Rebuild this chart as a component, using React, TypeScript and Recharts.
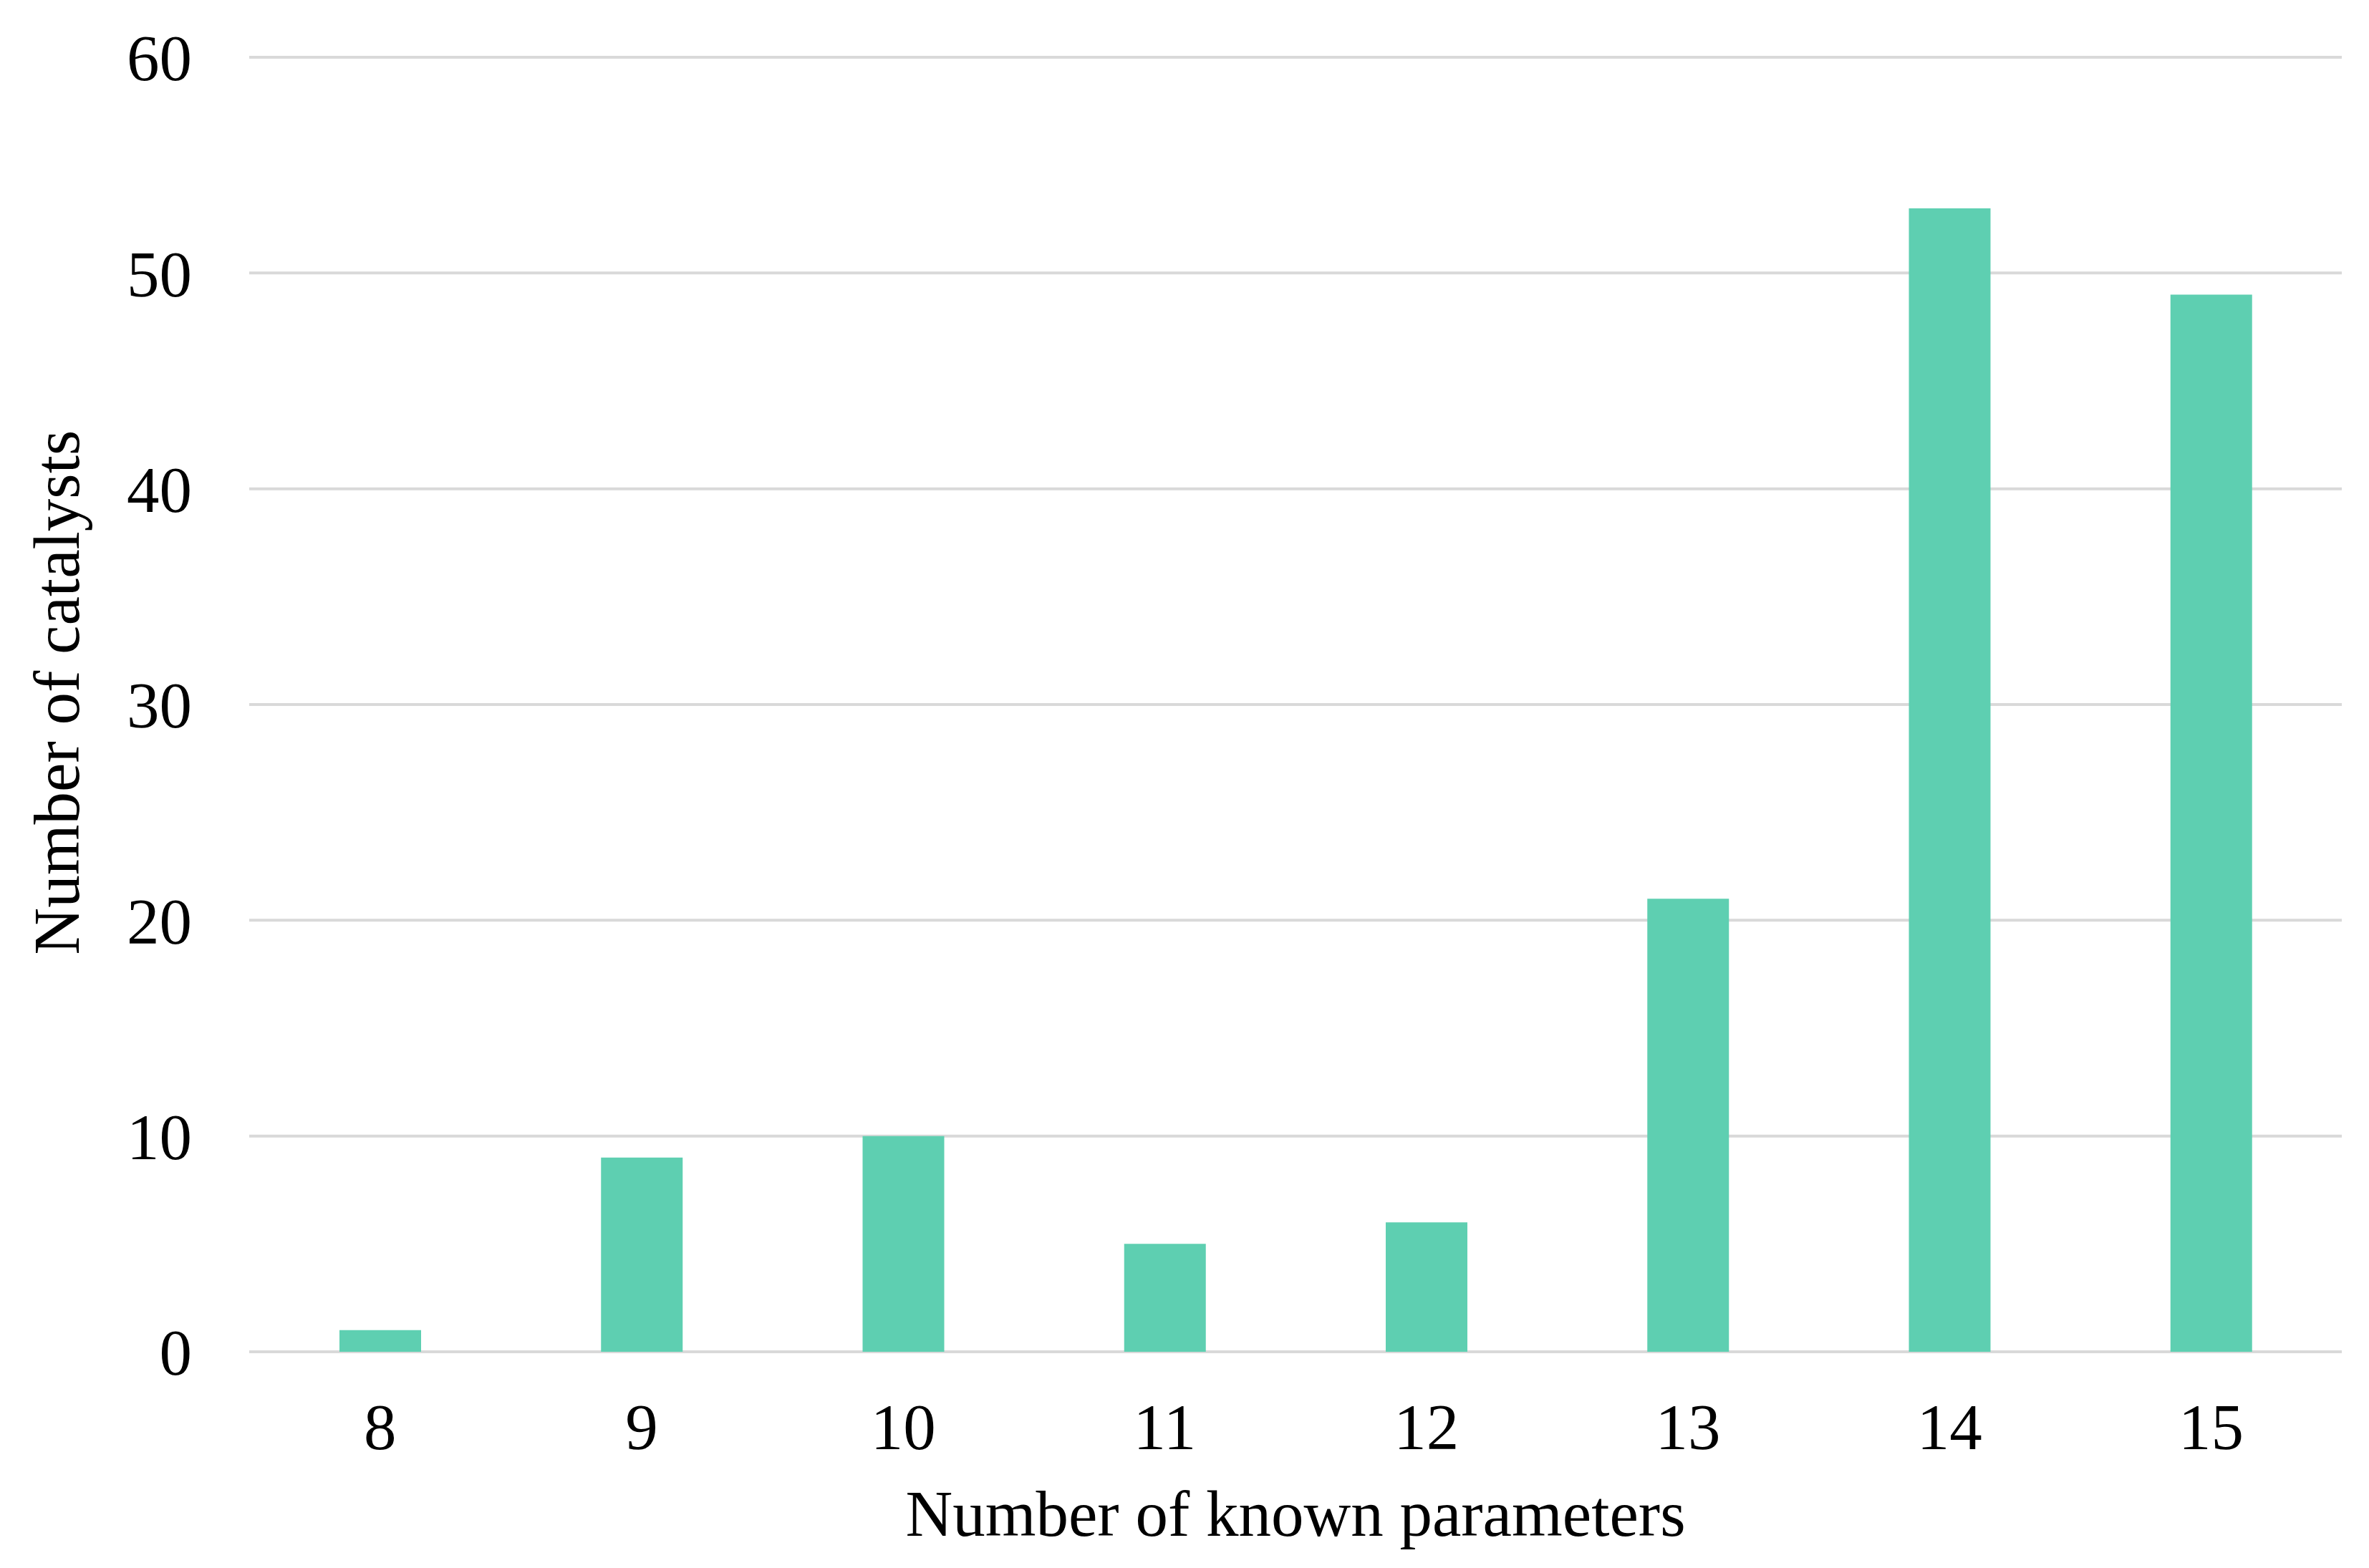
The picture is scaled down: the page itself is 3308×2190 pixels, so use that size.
import { Bar, BarChart, CartesianGrid, Label, XAxis, YAxis } from "recharts";

// number of known parameters per catalyst
const paramCounts = ["8", "9", "10", "11", "12", "13", "14", "15"];
const catalystCounts = [1, 9, 10, 5, 6, 21, 53, 49];
const yTicks = [0, 10, 20, 30, 40, 50, 60];

const data = paramCounts.map((p, i) => ({ params: p, count: catalystCounts[i] }));

const FONT = "'Liberation Serif', 'Times New Roman', serif";
const tickStyle = { fontFamily: FONT, fontSize: 91, fill: "#000000" };

export default function App() {
  return (
    <div style={{ position: "absolute", left: 0, top: 0, background: "#ffffff" }}>
      <BarChart
        width={3308}
        height={2190}
        data={data}
        margin={{ top: 80, right: 38, left: 0, bottom: 0 }}
        barSize={114}
      >
        <CartesianGrid vertical={false} stroke="#D9D9D9" strokeWidth={4} />
        <XAxis
          dataKey="params"
          height={302}
          axisLine={false}
          tickLine={false}
          tickSize={0}
          tickMargin={71}
          tick={tickStyle}
        >
          <Label
            value="Number of known parameters"
            position="insideBottom"
            offset={45}
            style={{ fontFamily: FONT, fontSize: 91, fill: "#000000" }}
          />
        </XAxis>
        <YAxis
          width={348}
          domain={[0, 60]}
          ticks={yTicks}
          axisLine={false}
          tickLine={false}
          tickSize={0}
          tickMargin={80}
          tick={tickStyle}
          label={(props: any) => {
            const vb = props.viewBox || { x: 0, y: 80, height: 1808 };
            const cx = 110;
            const cy = vb.y + vb.height / 2 - 17;
            return (
              <text
                x={cx}
                y={cy}
                transform={`rotate(-90, ${cx}, ${cy})`}
                textAnchor="middle"
                fontFamily={FONT}
                fontSize={91}
                fill="#000000"
              >
                Number of catalysts
              </text>
            );
          }}
        />
        <Bar dataKey="count" fill="#5ECFB1" isAnimationActive={false} />
      </BarChart>
    </div>
  );
}
